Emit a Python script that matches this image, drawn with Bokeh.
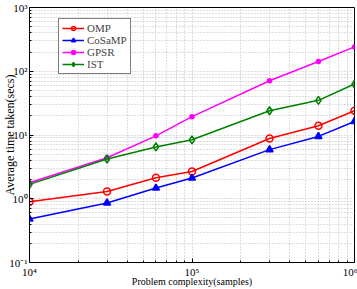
from bokeh.plotting import figure
from bokeh.models import FixedTicker, Legend, LegendItem
from bokeh.embed import file_html
from bokeh.resources import INLINE

# Problem size (number of samples) and average run time (seconds) per solver
samples = [1e4, 3e4, 6e4, 1e5, 3e5, 6e5, 1e6]
omp = [0.90, 1.30, 2.13, 2.68, 8.8, 14.0, 24.0]
cosamp = [0.48, 0.86, 1.47, 2.11, 5.9, 9.5, 16.3]
gpsr = [1.78, 4.4, 9.7, 19.4, 71.0, 142.0, 241.0]
ist = [1.68, 4.2, 6.5, 8.4, 24.0, 35.0, 63.0]

x_major = [1e4, 1e5, 1e6]
x_labels = ["10⁴", "10⁵", "10⁶"]
y_major = [0.1, 1, 10, 100, 1000]
y_labels = ["10⁻¹", "10⁰", "10¹", "10²", "10³"]

x_title = "Problem complexity(samples)"
y_title = "Average time taken(secs)"

FONT = "Liberation Serif"


def minors(majors):
    return [m * d for d in majors[:-1] for m in range(2, 10)]


x_ticker = FixedTicker(ticks=x_major, minor_ticks=minors(x_major))
y_ticker = FixedTicker(ticks=y_major, minor_ticks=minors(y_major))

p = figure(
    width=357, height=289,
    x_axis_type="log", y_axis_type="log",
    x_range=(1e4, 1e6), y_range=(0.1, 1000),
    output_backend="svg", toolbar_location=None,
    min_border_left=29, min_border_right=3,
    min_border_top=7, min_border_bottom=27,
    background_fill_color="white", border_fill_color="white",
)
p.outline_line_color = "black"
p.outline_line_width = 1

p.xaxis.ticker = x_ticker
p.yaxis.ticker = y_ticker
p.xaxis.major_label_overrides = dict(zip(x_major, x_labels))
p.yaxis.major_label_overrides = dict(zip(y_major, y_labels))

for ax in p.xaxis + p.yaxis:
    ax.axis_line_color = "black"
    ax.major_tick_in = 4
    ax.major_tick_out = 0
    ax.minor_tick_in = 2
    ax.minor_tick_out = 0
    ax.major_tick_line_color = "black"
    ax.minor_tick_line_color = "black"
    ax.major_label_text_font = FONT
    ax.major_label_text_font_size = "11px"
    ax.major_label_text_color = "black"
    ax.axis_label_text_font = FONT
    ax.axis_label_text_font_style = "normal"
    ax.axis_label_text_color = "black"

p.xaxis.major_label_standoff = 3
p.xaxis.axis_label = x_title
p.xaxis.axis_label_text_font_size = "10px"
p.xaxis.axis_label_standoff = -5

# The vertical title tucks in beside the tick labels
p.yaxis.major_label_standoff = 2
p.yaxis.axis_label = y_title
p.yaxis.axis_label_text_font_size = "12px"
p.yaxis.axis_label_standoff = -11

for g in (p.xgrid, p.ygrid):
    g.grid_line_color = "#bdbdbd"
    g.grid_line_dash = "1 2"
    g.grid_line_width = 1
    g.minor_grid_line_color = "#bdbdbd"
    g.minor_grid_line_dash = "1 2"
    g.minor_grid_line_width = 1

series = [
    ("OMP", omp, "#ff0000", "circle", 7, None),
    ("CoSaMP", cosamp, "#0000ff", "triangle", 7, "#0000ff"),
    ("GPSR", gpsr, "#ff00ff", "circle", 4, "#ff00ff"),
    ("IST", ist, "#008000", "diamond", 8, None),
]

items = []
for name, ys, color, marker, size, fill in series:
    ln = p.line(samples, ys, line_color=color, line_width=1.5)
    sc = p.scatter(samples, ys, marker=marker, size=size, line_color=color,
                   line_width=1.5, fill_color=fill if fill else "white",
                   fill_alpha=1.0 if fill else 0.0)
    items.append(LegendItem(label=name, renderers=[ln, sc]))

legend = Legend(items=items, location=(29, 188))
legend.label_text_font = FONT
legend.label_text_font_size = "11px"
legend.label_height = 10
legend.glyph_height = 10
legend.glyph_width = 22
legend.spacing = -2
legend.padding = 3
legend.margin = 0
legend.label_standoff = 3
legend.border_line_color = "black"
legend.border_line_width = 1
legend.background_fill_alpha = 1.0
p.add_layout(legend)

open("out.html", "w").write(file_html(p, INLINE))
